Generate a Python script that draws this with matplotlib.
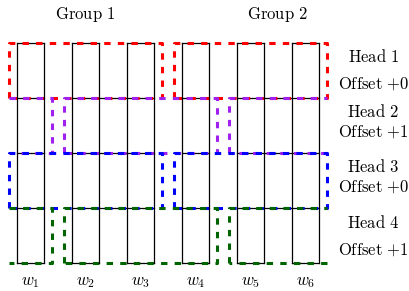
import matplotlib
matplotlib.use("Agg")
import matplotlib.pyplot as plt

plt.rcParams['mathtext.fontset'] = 'cm'
plt.rcParams['lines.scale_dashes'] = False

# ---- data ----
words = [r'$w_1$', r'$w_2$', r'$w_3$', r'$w_4$', r'$w_5$', r'$w_6$']
groups = ['Group 1', 'Group 2']
group_size = 3
head_names = ['Head 1', 'Head 2', 'Head 3', 'Head 4']
head_offsets = [0, 1, 0, 1]
head_colors = ['#ff0000', '#a020f0', '#0000ff', '#006400']
# interior horizontal rule spans (first col, last col)
rule_spans = [(0, 0), (1, 2), (3, 3), (4, 5)]

# ---- layout (units: one column width) ----
W, H = 410, 291
unit = 27.5
x0px, y0px = 16.7, 43.3
pitch = 2.0      # column pitch
cw = 1.0         # column width
rh = 2.0         # row height
m = 0.27         # dashed box margin

fig = plt.figure(figsize=(W / 100, H / 100), dpi=100)
ax = fig.add_axes([0, 0, 1, 1])
ax.set_xlim(-x0px / unit, (W - x0px) / unit)
ax.set_ylim((H - y0px) / unit, -y0px / unit)
ax.axis('off')

n = len(words)
nrows = len(head_names)
top, bot = 0.0, nrows * rh
klw = 0.9

# black cells
for i in range(n):
    xl = i * pitch
    xr = xl + cw
    ax.plot([xl, xl], [top, bot], color='black', lw=klw, zorder=3)
    ax.plot([xr, xr], [top, bot], color='black', lw=klw, zorder=3)
    ax.plot([xl, xr], [top, top], color='black', lw=klw, zorder=1)
    ax.plot([xl, xr], [bot, bot], color='black', lw=klw, zorder=1)
for r in range(1, nrows):
    y = r * rh
    for a, b in rule_spans:
        ax.plot([a * pitch, b * pitch + cw], [y, y], color='black', lw=klw, zorder=1)

# dashed head windows
L = -m
R = (n - 1) * pitch + cw + m
dash = (0, (4.6, 5.2))
dlw = 2.2
for r, (off, col) in enumerate(zip(head_offsets, head_colors)):
    yt, yb = r * rh, (r + 1) * rh
    starts = range(off - group_size if off else 0, n, group_size)
    for s in starts:
        xa = s * pitch - m
        xb = (s + group_size - 1) * pitch + cw + m
        ca, cb = max(xa, L), min(xb, R)
        if cb <= ca:
            continue
        if xa >= L:
            pts = [(ca, yb), (ca, yt)]
        else:
            pts = [(ca, yt)]
        pts.append((cb, yt))
        if xb <= R:
            pts.append((cb, yb))
            pts.append((ca, yb))
            ax.plot([p[0] for p in pts], [p[1] for p in pts], color=col,
                    lw=dlw, ls=dash, zorder=2)
        else:
            ax.plot([p[0] for p in pts], [p[1] for p in pts], color=col,
                    lw=dlw, ls=dash, zorder=2)
            ax.plot([cb, ca], [yb, yb], color=col, lw=dlw, ls=dash, zorder=2)

fs = 12
# word labels
for i, w in enumerate(words):
    ax.text(i * pitch + cw / 2, 8.66, w, ha='center', va='center', fontsize=fs)

# group labels
gx = [2.48, 9.48]
for g, x in zip(groups, gx):
    ax.text(x, -1.03, r'$\mathrm{' + g.replace(' ', r'\ ') + '}$',
            ha='center', va='center', fontsize=fs)

# head labels
head_y = [0.49, 2.49, 4.49, 6.52]
off_y = [1.455, 3.22, 5.215, 7.49]
lx = 12.97
for name, off, hy, oy in zip(head_names, head_offsets, head_y, off_y):
    ax.text(lx, hy, r'$\mathrm{' + name.replace(' ', r'\ ') + '}$',
            ha='center', va='center', fontsize=fs)
    ax.text(lx, oy, r'$\mathrm{Offset}\ {+}' + str(off) + '$',
            ha='center', va='center', fontsize=fs)

fig.savefig('out.png', dpi=100)
